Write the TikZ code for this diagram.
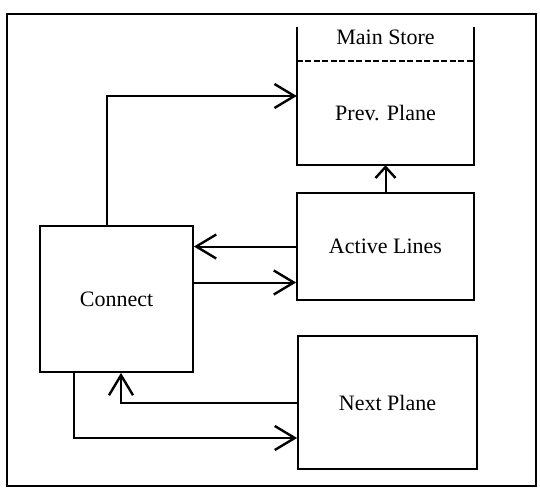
\documentclass[tikz,border=0pt]{standalone}
\usepackage{fontspec}
\setmainfont{Liberation Serif}
\usetikzlibrary{arrows.meta}

\begin{document}
\begin{tikzpicture}[x=1pt,y=-1pt]
  \tikzstyle{block} = [rectangle,draw=black,line width=1.8pt,
  font=\fontsize{22}{26}\selectfont,inner sep=0pt]
  \tikzstyle{plain} = [rectangle,draw=none,
  font=\fontsize{22}{26}\selectfont,inner sep=0pt]
  \tikzstyle{ref} = [-{Straight Barb[length=20pt,width=24pt,line width=2.4pt]},
  line width=2pt]
  \tikzstyle{sref} = [-{Straight Barb[length=11pt,width=20pt,line width=2.4pt]},
  line width=2pt]

  \useasboundingbox (0,0) rectangle (540,491);
  \draw[line width=1.3pt] (7,14) rectangle (536,486);

  \node[plain,minimum width=177pt,minimum height=104pt] (prev)
  at (385.5,113) {Prev. Plane};
  \node[plain,name=store] at (385.5,37) {Main Store};
  \draw[line width=1.8pt] ([yshift=34pt]prev.north west) -- (prev.south west)
  -- (prev.south east) -- ([yshift=34pt]prev.north east);
  \draw[line width=1.5pt,dash pattern=on 6pt off 2.5pt] (prev.north west)
  -- (prev.north east);

  \node[block,minimum width=177pt,minimum height=107pt] (active)
  at (385.5,246.5) {Active Lines};
  \node[block,minimum width=153pt,minimum height=146pt] (connect)
  at (116.5,299) {Connect};
  \node[block,minimum width=179pt,minimum height=133pt] (next)
  at (387.5,402.5) {Next Plane};

  \coordinate (c1) at ([xshift=-9.5pt]connect.north);
  \coordinate (p1) at ([yshift=17pt]prev.west);
  \coordinate (a2) at ([yshift=-36pt]active.west);
  \coordinate (c3) at ([xshift=4.5pt]connect.south);
  \coordinate (c4) at ([xshift=-42.5pt]connect.south);
  \coordinate (n4) at ([yshift=-35.5pt]next.west);

  \path (c1) edge[ref,to path={|- (\tikztotarget)}] (p1);
  \path (active.west) edge[ref] (active.west -| connect.east);
  \path (a2 -| connect.east) edge[ref] (a2);
  \path (active.north) edge[sref] (prev.south);
  \path (next.west) edge[ref,to path={-| (\tikztotarget)}] (c3);
  \path (c4) edge[ref,to path={|- (\tikztotarget)}] (n4);

\end{tikzpicture}
\end{document}
